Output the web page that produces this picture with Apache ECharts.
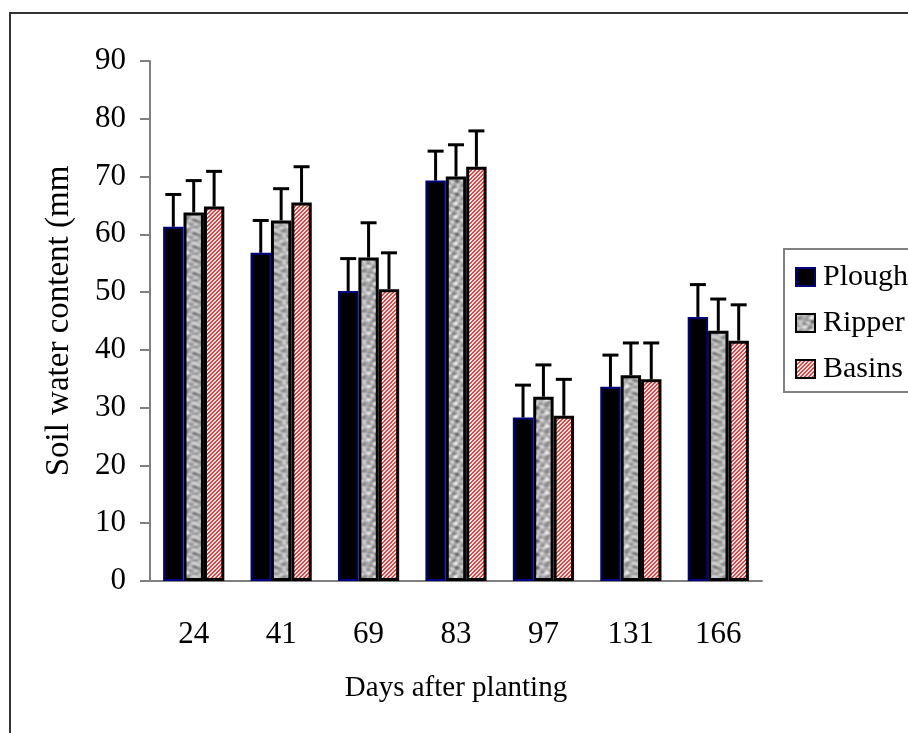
<!DOCTYPE html>
<html>
<head>
<meta charset="utf-8">
<script src="https://cdn.jsdelivr.net/npm/echarts@6/dist/echarts.min.js"></script>
<style>html,body{margin:0;padding:0;background:#fff;}#c{width:908px;height:733px;}</style>
</head>
<body>
<div id="c"></div>
<script>
const categories = ['24', '41', '69', '83', '97', '131', '166'];
const seriesNames = ['Plough', 'Ripper', 'Basins'];
const plough = [61.3, 56.8, 50.2, 69.3, 28.3, 33.6, 45.7];
const ripper = [63.8, 62.4, 56.0, 70.0, 31.9, 35.6, 43.3];
const basins = [64.8, 65.5, 50.5, 71.7, 28.6, 34.9, 41.6];
const ploughErr = [5.6, 5.6, 5.6, 5.1, 5.6, 5.5, 5.6];
const ripperErr = [5.5, 5.5, 6.0, 5.5, 5.5, 5.6, 5.5];
const basinsErr = [6.1, 6.2, 6.3, 6.2, 6.3, 6.3, 6.2];
const yTicks = {min: 0, max: 90, interval: 10};

const FONT = "'Liberation Serif', 'Times New Roman', serif";

// Pink hatch pattern
function hatchPattern() {
  const c = document.createElement('canvas');
  c.width = 4; c.height = 4;
  const g = c.getContext('2d');
  for (let x = 0; x < 4; x++) for (let y = 0; y < 4; y++) {
    const k = ((x + y) % 4 + 4) % 4;
    g.fillStyle = (k === 0 || k === 1) ? '#f04040' : '#ffe8e8';
    g.fillRect(x, y, 1, 1);
  }
  return c;
}
// Gray mottled (granite-like) pattern, deterministic
function granitePattern() {
  const n = 40;
  const c = document.createElement('canvas');
  c.width = n; c.height = n;
  const g = c.getContext('2d');
  const T = 2 * Math.PI / n;
  for (let x = 0; x < n; x++) for (let y = 0; y < n; y++) {
    let v = 0.62
      + 0.16 * Math.sin(2 * x * T + 2.2 * Math.sin(3 * y * T))
      + 0.14 * Math.cos(3 * y * T + 1.8 * Math.sin(2 * x * T + 1))
      + 0.09 * Math.sin(5 * x * T + 3 * y * T + 0.7)
      + 0.06 * Math.cos(4 * x * T - 6 * y * T);
    v = Math.max(0, Math.min(1, v));
    const s = Math.round(70 + v * 170);
    g.fillStyle = 'rgb(' + s + ',' + s + ',' + s + ')';
    g.fillRect(x, y, 1, 1);
  }
  return c;
}

const styles = [
  {color: '#000000', borderColor: '#000080', borderWidth: 2},
  {color: {image: granitePattern(), repeat: 'repeat'}, borderColor: '#000', borderWidth: 3},
  {color: {image: hatchPattern(), repeat: 'repeat'}, borderColor: '#000', borderWidth: 3}
];
const vals = [plough, ripper, basins];
const errs = [ploughErr, ripperErr, basinsErr];
const CAT_GAP = 0.30;

const series = [];
seriesNames.forEach((nm, k) => {
  series.push({
    name: nm, type: 'bar', data: vals[k], barGap: '0%', barCategoryGap: (CAT_GAP * 100) + '%',
    itemStyle: styles[k], z: 2
  });
});
seriesNames.forEach((nm, k) => {
  series.push({
    name: nm + ' error', type: 'custom', z: 5, silent: true,
    data: categories.map((c, i) => [i, vals[k][i], vals[k][i] + errs[k][i]]),
    encode: {x: 0, y: [1, 2]},
    renderItem: function (params, api) {
      const i = api.value(0);
      const base = api.coord([i, api.value(1)]);
      const top = api.coord([i, api.value(2)]);
      const cw = api.size([1, 0])[0];
      const bw = cw * (1 - CAT_GAP) / 3;
      const x = base[0] + (k - 1) * bw;
      return {type: 'group', children: [
        {type: 'line', shape: {x1: x, y1: base[1], x2: x, y2: top[1]}, style: {stroke: '#000', lineWidth: 3}},
        {type: 'line', shape: {x1: x - 8, y1: top[1], x2: x + 8, y2: top[1]}, style: {stroke: '#000', lineWidth: 3}}
      ]};
    }
  });
});

const chart = echarts.init(document.getElementById('c'), null, {renderer: 'canvas'});
chart.setOption({
  animation: false,
  backgroundColor: '#fff',
  textStyle: {fontFamily: FONT},
  grid: {left: 150, right: 146, top: 61, bottom: 152},
  graphic: [
    {type: 'rect', shape: {x: 10, y: 13, width: 1200, height: 1200}, style: {fill: 'none', stroke: '#333', lineWidth: 2}, z: -10},
    {type: 'rect', shape: {x: 784, y: 249, width: 300, height: 143}, style: {fill: '#fff', stroke: '#808080', lineWidth: 2}, z: 1}
  ],
  legend: {
    data: seriesNames, orient: 'vertical', left: 795, top: 262, padding: 0,
    icon: 'rect',
    itemWidth: 19, itemHeight: 18, itemGap: 16, z: 10,
    textStyle: {fontFamily: FONT, fontSize: 30, color: '#000', padding: [0, 0, 0, 3]}
  },
  xAxis: {
    type: 'category', data: categories,
    name: 'Days after planting', nameLocation: 'middle', nameGap: 93,
    nameTextStyle: {fontFamily: FONT, fontSize: 29, color: '#000'},
    axisLine: {lineStyle: {color: '#808080', width: 2}},
    axisTick: {length: 10, lineStyle: {color: '#808080', width: 2}},
    axisLabel: {fontFamily: FONT, fontSize: 31, color: '#000', margin: 38}
  },
  yAxis: {
    type: 'value', min: yTicks.min, max: yTicks.max, interval: yTicks.interval,
    name: 'Soil water content (mm', nameLocation: 'middle', nameGap: 74,
    nameTextStyle: {fontFamily: FONT, fontSize: 33, color: '#000'},
    axisLine: {show: true, lineStyle: {color: '#808080', width: 2}},
    axisTick: {show: true, length: 10, lineStyle: {color: '#808080', width: 2}},
    splitLine: {show: false},
    axisLabel: {fontFamily: FONT, fontSize: 31, color: '#000', margin: 24}
  },
  series: series
});
</script>
</body>
</html>
